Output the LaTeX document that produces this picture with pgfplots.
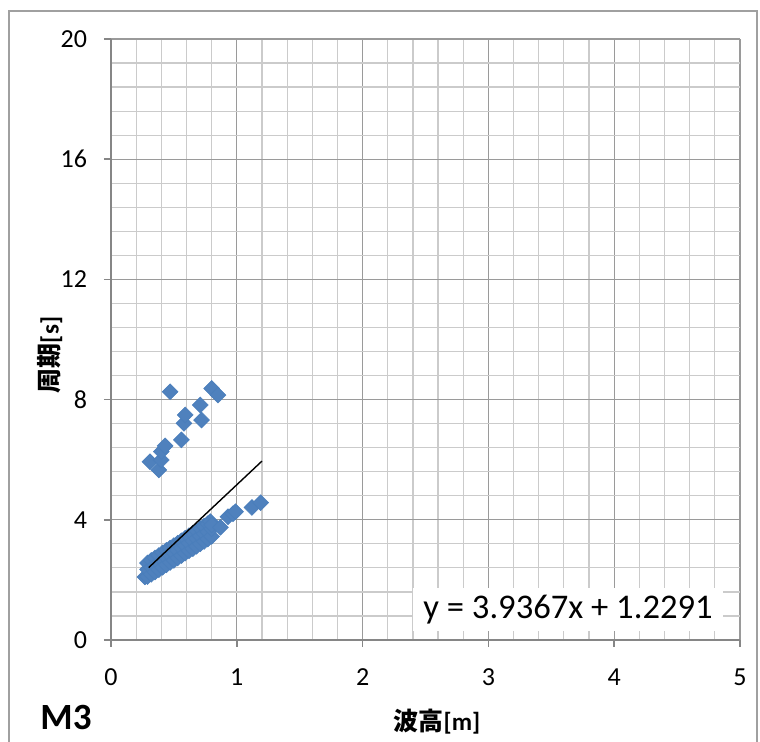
\documentclass[border=0pt]{standalone}
\usepackage{fontspec}
\setmainfont{Carlito}
\newfontfamily\cjk{Noto Sans CJK JP}
\usepackage{pgfplots}
\pgfplotsset{compat=1.18}
\usepackage{pgfplotstable}
\definecolor{mk}{HTML}{4F81BD}
\definecolor{mkd}{HTML}{4A7EBB}
\definecolor{majg}{HTML}{9A9A9A}
\definecolor{ming}{HTML}{CBCBCB}
\definecolor{axg}{HTML}{868686}
\definecolor{frameg}{HTML}{A0A0A0}

\pgfplotstableread{
x y
0.27 2.10
0.29 2.11
0.29 2.35
0.29 2.56
0.32 2.19
0.32 2.42
0.32 2.65
0.35 2.26
0.35 2.50
0.35 2.73
0.38 2.34
0.38 2.58
0.38 2.81
0.41 2.42
0.41 2.66
0.41 2.90
0.44 2.50
0.44 2.74
0.44 2.98
0.47 2.58
0.47 2.82
0.47 3.06
0.50 2.65
0.50 2.90
0.50 3.14
0.53 2.73
0.53 2.98
0.53 3.22
0.56 2.81
0.56 3.06
0.56 3.30
0.59 2.89
0.59 3.14
0.59 3.39
0.62 2.97
0.62 3.22
0.62 3.47
0.65 3.04
0.65 3.30
0.65 3.55
0.68 3.12
0.68 3.38
0.68 3.63
0.71 3.20
0.71 3.46
0.71 3.71
0.74 3.28
0.74 3.54
0.74 3.79
0.77 3.36
0.77 3.60
0.77 3.87
0.79 3.94
0.80 3.45
0.80 3.70
0.80 3.83
0.87 3.75
0.93 4.10
0.97 4.20
0.99 4.27
1.12 4.41
1.19 4.57
0.31 5.93
0.38 5.66
0.40 5.99
0.40 6.27
0.43 6.46
0.47 8.26
0.56 6.66
0.58 7.21
0.59 7.49
0.71 7.82
0.72 7.32
0.80 8.37
0.85 8.15
}\datatable

\begin{document}
\begin{tikzpicture}
\useasboundingbox (-55.5pt,-51pt) rectangle (324.5pt,320pt);
\draw[frameg, line width=0.8pt] (-51pt,-60pt) rectangle (323pt,314.5pt);
\begin{axis}[
  at={(0pt,0pt)}, anchor=south west,
  scale only axis, width=314.5pt, height=300.5pt,
  xmin=0, xmax=5, ymin=0, ymax=20,
  xtick={0,1,2,3,4,5}, ytick={0,4,8,12,16,20},
  minor x tick num=4, minor y tick num=4,
  grid=both,
  major grid style={majg, line width=0.6pt},
  minor grid style={ming, line width=0.6pt},
  axis lines=left,
  axis line style={axg, line width=0.8pt, -},
  tick align=outside, major tick length=3.5pt, minor tick length=0pt,
  tick style={axg, line width=0.8pt},
  ticklabel style={font=\fontsize{13}{15}\selectfont, black},
  /pgf/number format/assume math mode=true,
  yticklabel style={xshift=-5pt},
  xticklabel style={yshift=-7.5pt},
  clip mode=individual,
]
\addplot[only marks, mark=square*, mark size=2.8pt,
  mark options={rotate=45, fill=mk, draw=mkd, line width=0.3pt}]
  table[x=x, y=y] {\datatable};
\addplot[black, line width=0.7pt] coordinates {(0.30,2.4101) (1.20,5.9531)};
\node[fill=white, inner sep=0pt, minimum width=155pt, minimum height=21.5pt,
  font=\fontsize{17.3}{19}\selectfont] at (axis cs:3.633,1.0) {y = 3.9367x + 1.2291};
\end{axis}
\node[rotate=90, font=\bfseries\fontsize{12.5}{14}\selectfont] at (-30.5pt,142.5pt) {{\cjk\bfseries 周期}[s]};
\node[font=\bfseries\fontsize{12.5}{14}\selectfont] at (163pt,-41pt) {{\cjk\bfseries 波高}[m]};
\node[font=\bfseries\fontsize{18.5}{20}\selectfont] at (-22.5pt,-39pt) {M3};
\end{tikzpicture}
\end{document}
